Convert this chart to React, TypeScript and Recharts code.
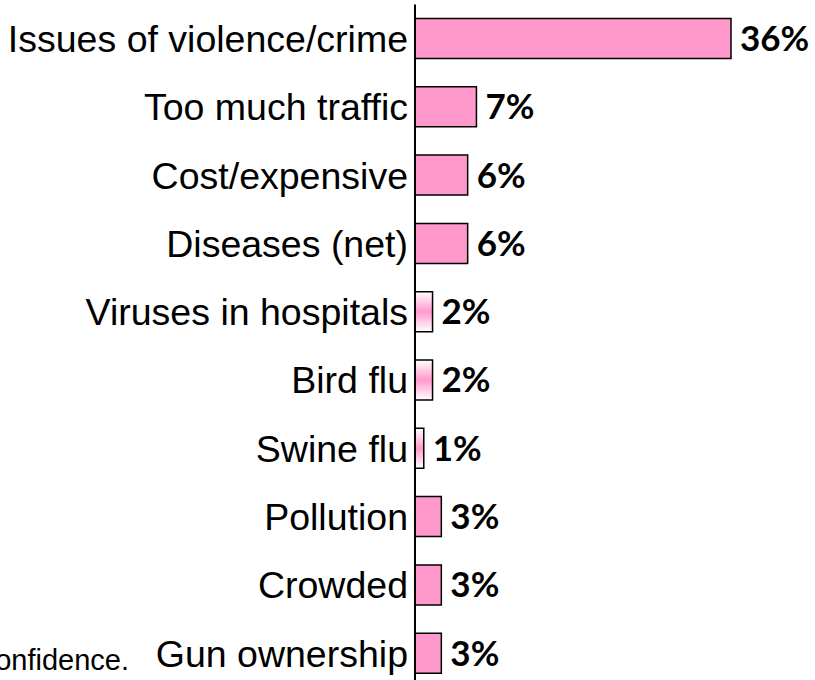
import { BarChart, Bar, XAxis, YAxis, Cell, LabelList } from 'recharts'

const categories = [
  'Issues of violence/crime',
  'Too much traffic',
  'Cost/expensive',
  'Diseases (net)',
  'Viruses in hospitals',
  'Bird flu',
  'Swine flu',
  'Pollution',
  'Crowded',
  'Gun ownership',
]
const shares = [36, 7, 6, 6, 2, 2, 1, 3, 3, 3]
const footnote = 'confidence.'

const data = categories.map((name, i) => ({ name, value: shares[i] }))

const PINK = '#ff99cc'

export default function App() {
  return (
    <div style={{ position: 'absolute', left: 0, top: 0, width: 815, height: 690, background: '#fff' }}>
      <BarChart
        width={815}
        height={690}
        data={data}
        layout="vertical"
        margin={{ top: 4.5, right: 84, bottom: 2.5, left: 0 }}
        barCategoryGap={14}
      >
        <defs>
          <linearGradient id="smallBar" x1="0" y1="0" x2="0" y2="1">
            <stop offset="0%" stopColor="#ffffff" />
            <stop offset="50%" stopColor={PINK} />
            <stop offset="100%" stopColor="#ffffff" />
          </linearGradient>
        </defs>
        <XAxis type="number" domain={[0, 36]} hide />
        <YAxis
          type="category"
          dataKey="name"
          width={415}
          tickLine={false}
          tickSize={0}
          tickMargin={7}
          axisLine={{ stroke: '#000', strokeWidth: 2 }}
          tick={{ fontSize: 37.5, fill: '#000', fontFamily: '"Liberation Sans", Arial, sans-serif' }}
          interval={0}
        />
        <Bar dataKey="value" stroke="#000" strokeWidth={1.5} isAnimationActive={false}>
          {data.map((d, i) => (
            <Cell key={i} fill={d.value < 3 ? 'url(#smallBar)' : PINK} />
          ))}
          <LabelList
            dataKey="value"
            position="right"
            offset={9}
            formatter={(v: number) => `${v}%`}
            style={{ fontSize: 35, fontWeight: 700, fill: '#000', fontFamily: 'Lato, "Open Sans", sans-serif' }}
          />
        </Bar>
      </BarChart>
      <div
        style={{
          position: 'absolute',
          right: 815 - 129,
          top: 643,
          lineHeight: '34px',
          whiteSpace: 'nowrap',
          fontSize: 29,
          fontFamily: '"Liberation Sans", Arial, sans-serif',
          color: '#000',
        }}
      >
        {footnote}
      </div>
    </div>
  )
}
